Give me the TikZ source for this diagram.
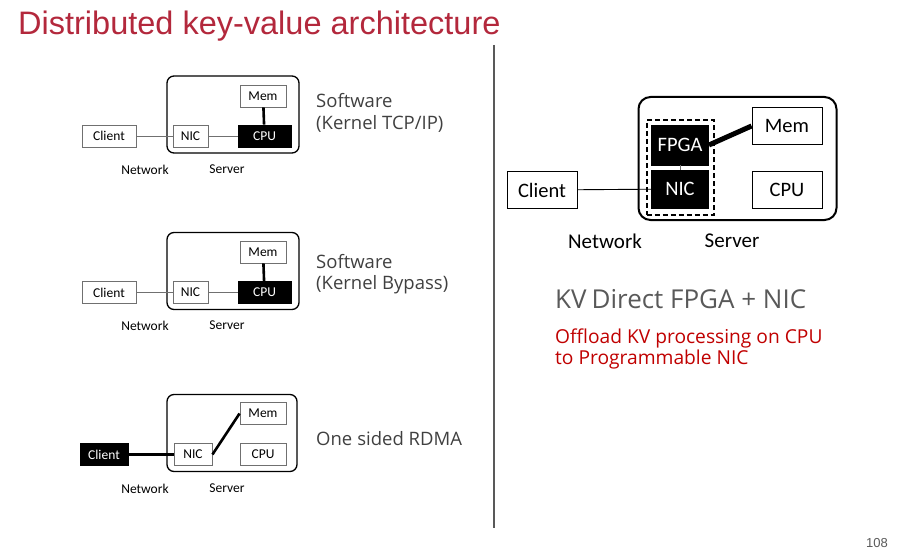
\documentclass[tikz,border=0pt]{standalone}
\usepackage{fontspec}
\setmainfont{Carlito}
\newfontfamily\titlefont{Liberation Sans}
\newfontfamily\segfont{Open Sans}
\definecolor{titlered}{HTML}{B3283C}
\definecolor{offred}{HTML}{C00000}
\definecolor{txtgray}{HTML}{404040}
\definecolor{kvgray}{HTML}{595959}
\definecolor{linegray}{HTML}{707070}
\begin{document}
\begin{tikzpicture}[x=1pt,y=-1pt,
  sbox/.style={draw=linegray,line width=0.9pt,fill=white,inner sep=0pt,minimum height=22pt,font=\fontsize{13.5}{15}\selectfont},
  sblack/.style={sbox,fill=black,draw=black,text=white},
  sserver/.style={draw=black,line width=1.3pt,rounded corners=7pt,inner sep=0pt},
  slabel/.style={font=\fontsize{13.5}{15}\selectfont,inner sep=0pt},
  sidetext/.style={font=\segfont\fontsize{18.5}{21.5}\selectfont,text=txtgray,anchor=base west,inner sep=0pt,align=left},
  thinline/.style={draw=linegray,line width=0.9pt},
  thickline/.style={draw=black,line width=2.6pt},
  bbox/.style={draw=black,line width=0.9pt,fill=white,inner sep=0pt,minimum height=37pt,minimum width=70pt,font=\fontsize{20.5}{24}\selectfont},
  bblack/.style={bbox,fill=black,text=white,minimum width=57pt},
  blabel/.style={font=\fontsize{21}{24}\selectfont,inner sep=0pt}
]
\useasboundingbox (0,0) rectangle (898,551);
% title
\node[anchor=base west,inner sep=0pt,font=\titlefont\fontsize{32.5}{38}\selectfont,text=titlered] (title) at (18,35) {Distributed key-value architecture};
% divider
\draw[draw=kvgray,line width=2pt] (494,45) -- (494,528);

% ---------- diagram 1 ----------
\node[sserver,minimum width=132pt,minimum height=77pt] (server1) at (233,114.5) {};
\node[sbox,minimum width=46pt] (mem1) at (263,96) {Mem};
\node[sblack,minimum width=53pt] (cpu1) at (264.5,136) {CPU};
\node[sbox,minimum width=35pt] (nic1) at (190.5,136) {NIC};
\node[sbox,minimum width=54pt] (client1) at (109,136) {Client};
\draw[thinline] (client1) -- (nic1);
\draw[thinline] (nic1) -- (cpu1);
\draw[thickline] (mem1) -- (cpu1);
\node[slabel] (net1) at (145,169.5) {Network};
\node[slabel] (srv1) at (227,169.5) {Server};
\node[sidetext] (t1) at (316,129.5) {Software\\(Kernel TCP/IP)};

% ---------- diagram 2 ----------
\node[sserver,minimum width=132pt,minimum height=77pt] (server2) at (233,271) {};
\node[sbox,minimum width=46pt] (mem2) at (263,252) {Mem};
\node[sblack,minimum width=53pt] (cpu2) at (264.5,292.5) {CPU};
\node[sbox,minimum width=35pt] (nic2) at (190.5,292.5) {NIC};
\node[sbox,minimum width=54pt] (client2) at (109,292.5) {Client};
\draw[thinline] (client2) -- (nic2);
\draw[thinline] (nic2) -- (cpu2);
\draw[thickline] (mem2) -- (cpu2);
\node[slabel] (net2) at (145,325.5) {Network};
\node[slabel] (srv2) at (227,325.5) {Server};
\node[sidetext] (t2) at (316,289.5) {Software\\(Kernel Bypass)};

% ---------- diagram 3 ----------
\node[sserver,minimum width=130pt,minimum height=77pt] (server3) at (232,433) {};
\node[sbox,minimum width=46pt] (mem3) at (263,413.5) {Mem};
\node[sbox,minimum width=46pt] (cpu3) at (263,454.5) {CPU};
\node[sbox,minimum width=38pt] (nic3) at (193,454.5) {NIC};
\node[sblack,minimum width=48pt] (client3) at (104,454.5) {Client};
\draw[thickline] (client3) -- (nic3);
\draw[thickline] (nic3.east) -- (mem3.west);
\node[slabel] (net3) at (145,488.5) {Network};
\node[slabel] (srv3) at (227,488.5) {Server};
\node[sidetext] (t3) at (316,445) {One\hspace{5pt}sided RDMA};

% ---------- right diagram ----------
\node[draw=black,line width=2pt,rounded corners=12pt,minimum width=198pt,minimum height=123pt,inner sep=0pt] (serverr) at (737.5,158.5) {};
\node[draw=black,line width=2pt,dash pattern=on 5pt off 3pt,minimum width=67pt,minimum height=95pt,inner sep=0pt] (dashbox) at (680,167.5) {};
\node[bblack,minimum height=40pt] (fpga) at (680,145) {FPGA};
\node[bblack,minimum height=38pt] (nicr) at (680,189) {NIC};
\node[bbox] (memr) at (787,126) {Mem};
\node[bbox] (cpur) at (787,190) {CPU};
\node[bbox] (clientr) at (542,190) {Client};
\draw[draw=black,line width=0.9pt] (clientr) -- (nicr);
\draw[draw=linegray,line width=0.9pt] (fpga) -- (nicr);
\draw[draw=black,line width=5pt] (fpga.east) -- (memr.west);
\node[blabel] (netr) at (605,241) {Network};
\node[blabel] (srvr) at (732,241) {Server};

\node[anchor=base west,inner sep=0pt,font=\segfont\fontsize{26}{30}\selectfont,text=kvgray] (kv) at (555,308) {KV\hspace{5pt}Direct FPGA + NIC};
\node[anchor=base west,inner sep=0pt,font=\segfont\fontsize{19.2}{21}\selectfont,text=offred,align=left] (off) at (555,364) {Offload KV processing on CPU\\to Programmable NIC};

\node[anchor=base east,inner sep=0pt,font=\titlefont\fontsize{13}{15}\selectfont,text=kvgray] (pg) at (888,547) {108};
\end{tikzpicture}
\end{document}
